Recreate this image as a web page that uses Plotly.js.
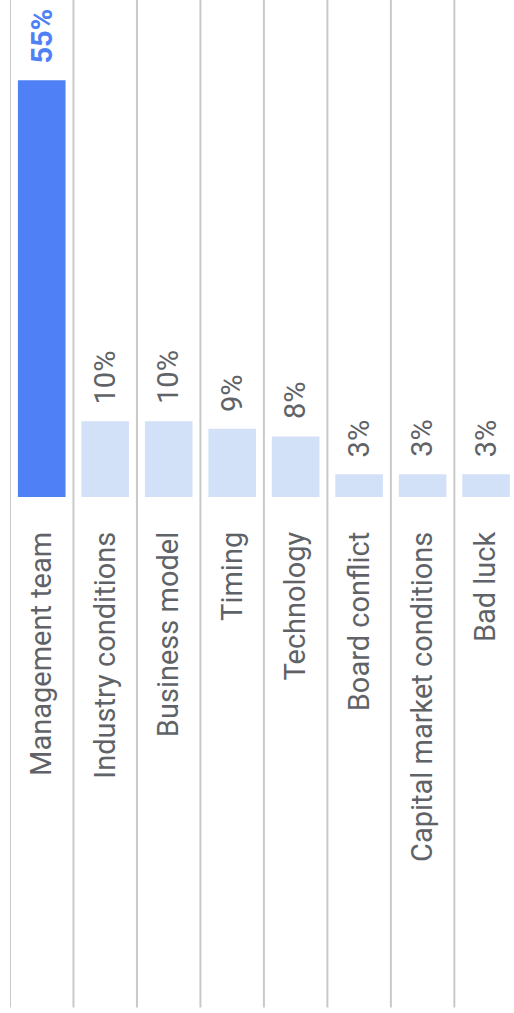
<!DOCTYPE html>
<html>
<head>
<meta charset="utf-8">
<script src="https://cdn.plot.ly/plotly-3.0.1.min.js"></script>
<style>
  html, body { margin: 0; padding: 0; background: #ffffff; overflow: hidden; }
  #chart { width: 514px; height: 1013px; }
</style>
</head>
<body>
<div id="chart"></div>
<script>
const categories = ["Management team", "Industry conditions", "Business model", "Timing", "Technology", "Board conflict", "Capital market conditions", "Bad luck"];
const values = [55, 10, 10, 9, 8, 3, 3, 3];
const valueLabels = ["55%", "10%", "10%", "9%", "8%", "3%", "3%", "3%"];

const highlightColor = "#4f80f6";
const baseColor = "#d3e1f8";
const greyText = "#5f6368";

const barColors = values.map((v, i) => i === 0 ? highlightColor : baseColor);

const trace = {
  type: "bar",
  x: categories,
  y: values,
  marker: { color: barColors, line: { width: 0 } },
  hoverinfo: "none",
  cliponaxis: false
};

const annotations = categories.map((c, i) => ({
  x: c,
  y: values[i],
  xref: "x",
  yref: "y",
  text: i === 0 ? "<b>" + valueLabels[i] + "</b>" : valueLabels[i],
  textangle: -90,
  showarrow: false,
  xanchor: "center",
  yanchor: "bottom",
  yshift: 15,
  font: { family: "Roboto, sans-serif", size: 29, color: i === 0 ? highlightColor : greyText }
}));

const shapes = categories.map((c, i) => ({
  type: "line",
  xref: "x",
  yref: "paper",
  x0: i - 0.5,
  x1: i - 0.5,
  y0: 1,
  y1: -1.027,
  line: { color: "#c9c9c9", width: 2 },
  layer: "below"
}));

const layout = {
  width: 514,
  height: 1013,
  margin: { l: 10, r: 0, t: 0, b: 516, pad: 0 },
  paper_bgcolor: "#ffffff",
  plot_bgcolor: "#ffffff",
  showlegend: false,
  bargap: 0.25,
  xaxis: {
    type: "category",
    range: [-0.5, 7.44],
    tickangle: -90,
    showgrid: false,
    zeroline: false,
    showline: false,
    ticks: "",
    ticklabelstandoff: 28,
    tickfont: { family: "Roboto, sans-serif", size: 29, color: greyText },
    fixedrange: true
  },
  yaxis: {
    range: [0, 65.6],
    showgrid: false,
    zeroline: false,
    showline: false,
    showticklabels: false,
    ticks: "",
    fixedrange: true
  },
  shapes: shapes,
  annotations: annotations
};

Plotly.newPlot("chart", [trace], layout, { displayModeBar: false, staticPlot: true });
</script>
</body>
</html>
